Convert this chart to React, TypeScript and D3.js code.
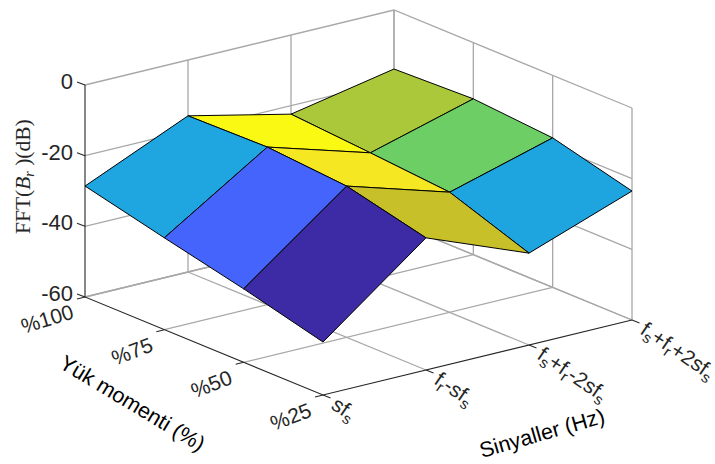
import React from "react";
import * as d3 from "d3";

const signals = ["sfs", "fr-sfs", "fs+fr-2sfs", "fs+fr+2sfs"];
const loads = ["%25", "%50", "%75", "%100"];
const zTicks = [-60, -40, -20, 0];

const fftAt25 = [-45, -22.6, -34, -23.5];
const fftAt50 = [-39.2, -17.2, -26, -17.7];
const fftAt75 = [-34, -15.4, -24.1, -15.9];
const fftAt100 = [-28.6, -15.8, -22.4, -16.7];
const fftRows = [fftAt25, fftAt50, fftAt75, fftAt100];

const faceAt25 = ["#3C2BA5", "#C8C029", "#1EA5E0"];
const faceAt50 = ["#4464FC", "#F5E822", "#6ECE66"];
const faceAt75 = ["#1FA5E0", "#FAF914", "#AAC83A"];
const faceRows = [faceAt25, faceAt50, faceAt75];

const GRID = "#A8A8A8";
const INK = "#262626";
const SANS = "'Liberation Sans', Arial, sans-serif";
const SERIF = "'Liberation Serif', 'Times New Roman', serif";

const uScale = d3.scalePoint<string>().domain(signals).range([0, 1]);
const vScale = d3.scalePoint<string>().domain(loads).range([0, 1]);
const zScale = d3.scaleLinear().domain([-60, 0]).range([0, -212]);

const project = (u: number, v: number, z: number): [number, number] => [
  323 + u * 309 - v * 238,
  395 - u * 75 - v * 98 + zScale(z),
];
const U = (i: number) => uScale(signals[i]) as number;
const V = (j: number) => vScale(loads[j]) as number;
const line = d3.line();
const pathOf = (pts: [number, number][], closed = false) => line(pts) + (closed ? "Z" : "");

function Sub({ parts, size }: { parts: [string, boolean][]; size: number }) {
  const shift = size * 0.22;
  const out: React.ReactNode[] = [];
  let down = false;
  parts.forEach(([t, isSub], i) => {
    const dy = isSub && !down ? shift : !isSub && down ? -shift : 0;
    down = isSub;
    out.push(
      <tspan key={i} dy={dy} fontSize={isSub ? size * 0.72 : size}>
        {t}
      </tspan>
    );
  });
  return <>{out}</>;
}

const labelParts: [string, boolean][][] = [
  [["sf", false], ["s", true]],
  [["f", false], ["r", true], ["-sf", false], ["s", true]],
  [["f", false], ["s", true], ["+f", false], ["r", true], ["-2sf", false], ["s", true]],
  [["f", false], ["s", true], ["+f", false], ["r", true], ["+2sf", false], ["s", true]],
];

export default function App() {
  const faces: { key: string; d: string; fill: string; depth: number }[] = [];
  faceRows.forEach((row, j) =>
    row.forEach((fill, i) => {
      const pts: [number, number][] = [
        project(U(i), V(j), fftRows[j][i]),
        project(U(i + 1), V(j), fftRows[j][i + 1]),
        project(U(i + 1), V(j + 1), fftRows[j + 1][i + 1]),
        project(U(i), V(j + 1), fftRows[j + 1][i]),
      ];
      faces.push({ key: `${i}-${j}`, d: pathOf(pts, true), fill, depth: i + j });
    })
  );
  faces.sort((a, b) => b.depth - a.depth);

  const grid: string[] = [];
  zTicks.forEach((z) => {
    grid.push(pathOf([project(0, 1, z), project(1, 1, z), project(1, 0, z)]));
  });
  signals.forEach((_, i) => {
    if (i > 0) {
      grid.push(pathOf([project(U(i), 1, -60), project(U(i), 1, 0)]));
      grid.push(pathOf([project(U(i), 0, -60), project(U(i), 1, -60)]));
    }
  });
  loads.forEach((_, j) => {
    grid.push(pathOf([project(1, V(j), -60), project(1, V(j), 0)]));
    if (j > 0) grid.push(pathOf([project(0, V(j), -60), project(1, V(j), -60)]));
  });

  const axes = [
    pathOf([project(0, 1, 0), project(0, 1, -60), project(0, 0, -60), project(1, 0, -60)]),
  ];
  const ticks: string[] = [];
  zTicks.forEach((z) => {
    const p = project(0, 1, z);
    ticks.push(pathOf([p, [p[0] - 8, p[1] - 3]]));
  });
  loads.forEach((_, j) => {
    const p = project(0, V(j), -60);
    ticks.push(pathOf([p, [p[0] - 8, p[1] + 2]]));
  });
  signals.forEach((_, i) => {
    const p = project(U(i), 0, -60);
    ticks.push(pathOf([p, [p[0] + 7.5, p[1] + 3]]));
  });

  const left = project(0, 1, 0);
  return (
    <svg
      width={715}
      height={464}
      style={{ position: "absolute", left: 0, top: 0, display: "block", background: "#fff" }}
    >
      <g fill="none" stroke={GRID} strokeWidth={1.3}>
        {grid.map((d, i) => (
          <path key={i} d={d} />
        ))}
      </g>
      <g fill="none" stroke={INK} strokeWidth={1.1}>
        {axes.map((d, i) => (
          <path key={i} d={d} />
        ))}
        {ticks.map((d, i) => (
          <path key={i} d={d} />
        ))}
      </g>
      <g stroke="#000" strokeWidth={1} strokeLinejoin="round">
        {faces.map((f) => (
          <path key={f.key} d={f.d} fill={f.fill} />
        ))}
      </g>
      <g fontFamily={SANS} fontSize={22} fill={INK} textAnchor="end">
        {zTicks.map((z) => (
          <text key={z} x={left[0] - 12} y={project(0, 1, z)[1] + 4}>
            {z}
          </text>
        ))}
      </g>
      <g fontFamily={SANS} fontSize={21} fill={INK} textAnchor="end">
        {loads.map((l, j) => {
          const p = project(0, V(j), -60);
          return (
            <text
              key={l}
              transform={`translate(${p[0] - 10},${p[1] + 21}) rotate(${j === 3 ? -17 : -21})`}
            >
              {l}
            </text>
          );
        })}
      </g>
      <g fontFamily={SANS} fill={INK}>
        {signals.map((s, i) => {
          const p = project(U(i), 0, -60);
          return (
            <text
              key={s}
              fontSize={21}
              transform={`translate(${p[0] + 7},${p[1] + 13}) rotate(34)`}
            >
              <Sub parts={labelParts[i]} size={21} />
            </text>
          );
        })}
      </g>
      <text
        fontFamily={SANS}
        fontSize={21.5}
        fill="#000"
        transform="translate(58,367) rotate(31)"
      >
        Yük momenti (%)
      </text>
      <text
        fontFamily={SANS}
        fontSize={21.5}
        fill="#000"
        transform="translate(482,458) rotate(-16)"
      >
        Sinyaller (Hz)
      </text>
      <text
        fontFamily={SERIF}
        fontSize={21.5}
        fill={INK}
        transform="translate(30,234) rotate(-90)"
      >
        FFT(<tspan fontStyle="italic">B</tspan>
        <tspan fontStyle="italic" fontSize={14} dy={4}>r</tspan>
        <tspan dy={-4}> )(dB)</tspan>
      </text>
    </svg>
  );
}
